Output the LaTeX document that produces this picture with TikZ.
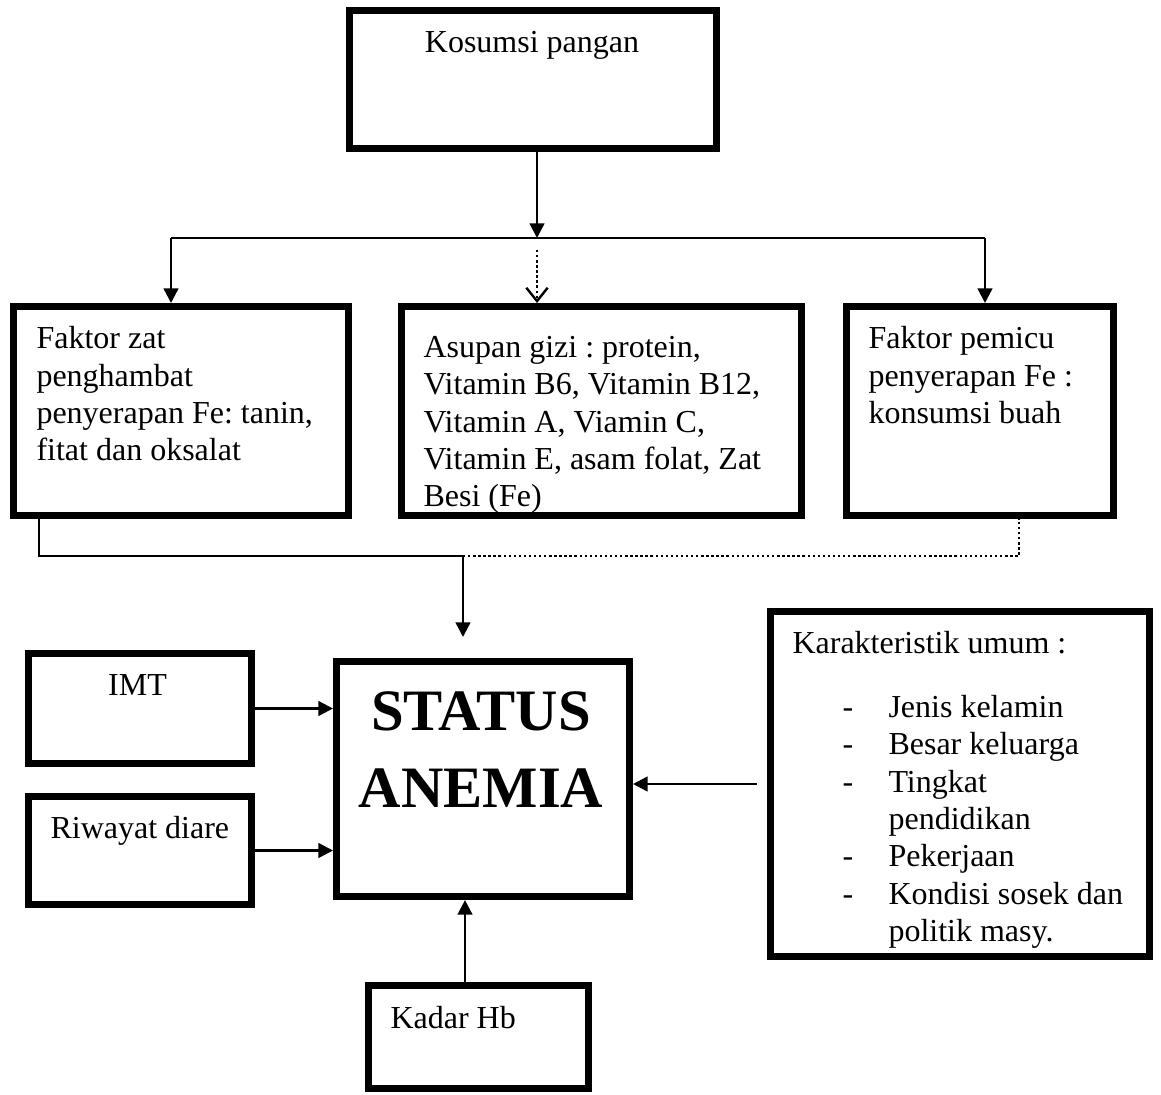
\documentclass[tikz,border=0pt]{standalone}
\usepackage{fontspec}
\setmainfont{Liberation Serif}
\usetikzlibrary{arrows.meta,positioning}
\frenchspacing

\newcommand{\dashitem}{\makebox[17.25pt][l]{-}}
\newcommand{\noitem}{\hspace*{17.25pt}}

\begin{document}
\begin{tikzpicture}[x=0.375pt, y=-0.375pt]
      \tikzset{
	  box/.style={rectangle, draw=black, line width=2.5pt, inner sep=0pt},
	  txt/.style={anchor=north west, inner sep=0pt, align=left, font=\fontsize{12}{14}\selectfont},
	  link/.style={draw=black, line width=0.9pt},
	  arr/.style={link, -{Triangle[length=5.5pt,width=5.5pt]}},
	  dotarr/.style={link, densely dotted, -{Straight Barb[length=5pt,width=8pt]}}
      }
      \useasboundingbox (0,0) rectangle (1161,1095);

      % boxes
      \node at (533,79.5) [box, minimum width=137.8pt, minimum height=51.9pt] (kosumsi) {};
      \node at (181,411) [box, minimum width=125.8pt, minimum height=78.5pt] (zathambat) {};
      \node at (601.5,411) [box, minimum width=150.2pt, minimum height=78.5pt] (asupan) {};
      \node at (980,411) [box, minimum width=100.3pt, minimum height=78.5pt] (pemicu) {};
      \node at (483,779) [box, minimum width=110pt, minimum height=88.3pt] (status) {};
      \node at (140,708.5) [box, minimum width=83.8pt, minimum height=41.4pt] (imt) {};
      \node at (140,850.5) [box, minimum width=83.8pt, minimum height=40.65pt] (riwayat) {};
      \node at (478.5,1037) [box, minimum width=82.65pt, minimum height=38.8pt] (kadar) {};
      \node at (960,784) [box, minimum width=142.3pt, minimum height=129.5pt] (karakter) {};

      % texts
      \node at (532,53) [txt, anchor=base] (kosumsitext) {Kosumsi pangan};
      \node at (36,322.2) [txt] (zattext) {\strut Faktor zat\\penghambat\\penyerapan Fe: tanin,\\fitat dan oksalat};
      \node at (423,330.9) [txt] (asupantext) {\strut Asupan gizi : protein,\\Vitamin B6, Vitamin B12,\\Vitamin A, Viamin C,\\Vitamin E, asam folat, Zat\\Besi (Fe)};
      \node at (868,322) [txt] (pemicutext) {\strut Faktor pemicu\\penyerapan Fe :\\konsumsi buah};
      \node at (481,675.9) [txt, anchor=north, align=center, font=\fontsize{22}{29}\selectfont\bfseries] (statustext) {\strut STATUS\\ANEMIA};
      \node at (137.5,695) [txt, anchor=base] (imttext) {IMT};
      \node at (50,838) [txt, anchor=base west] (riwayattext) {Riwayat diare};
      \node at (390,1028) [txt, anchor=base west] (kadartext) {Kadar Hb};
      \node at (792,653) [txt, anchor=base west] (karaktertitle) {Karakteristik umum :};
      \node at (842,690.9) [txt] (karakterlist) {\strut\dashitem Jenis kelamin\\\dashitem Besar keluarga\\\dashitem Tingkat\\\noitem pendidikan\\\dashitem Pekerjaan\\\dashitem Kondisi sosek dan\\\noitem politik masy.};

      % connectors
      \coordinate (split) at (537,238);
      \coordinate (splitL) at (171,238);
      \coordinate (splitR) at (985,238);
      \coordinate (dotstart) at (537,250);
      \coordinate (mergeL) at (39,556);
      \coordinate (mergeM) at (463,556);
      \coordinate (mergeR) at (1019,556);
      \coordinate (mergeend) at (463,637);
      \coordinate (hbup) at ([xshift=-5.06pt]kadar.north);
      \coordinate (karout) at ([xshift=-3.75pt]karakter.west);

      \draw[arr] (kosumsi.south -| split) -- (split);
      \draw[link] (splitL) -- (splitR);
      \draw[arr] (splitL) -- (splitL |- zathambat.north);
      \draw[arr] (splitR) -- (splitR |- pemicu.north);
      \draw[dotarr] (dotstart) -- (dotstart |- asupan.north);

      \draw[link] (zathambat.south -| mergeL) -- (mergeL) -- (mergeM);
      \draw[link, densely dotted] (mergeM) -- (mergeR) -- (pemicu.south -| mergeR);
      \draw[arr] (mergeM) -- (mergeend);

      \draw[arr] (imt.east) -- (imt.east -| status.west);
      \draw[arr] (riwayat.east) -- (riwayat.east -| status.west);
      \draw[arr] (hbup) -- (hbup |- status.south);
      \draw[arr] (karout) -- (karout -| status.east);
    \end{tikzpicture}
\end{document}
